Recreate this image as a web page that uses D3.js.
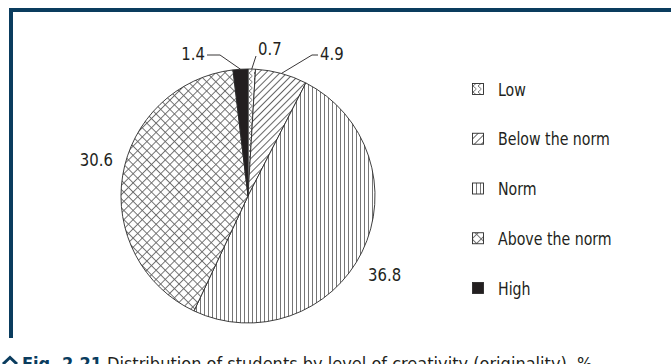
<!DOCTYPE html>
<html>
<head>
<meta charset="utf-8">
<script src="https://cdn.jsdelivr.net/npm/d3@7/dist/d3.min.js"></script>
<style>
  html, body { margin: 0; padding: 0; background: #fff; overflow: hidden; }
  svg { display: block; }
  .lbl { font-family: "DejaVu Sans Condensed", "DejaVu Sans", sans-serif; font-stretch: condensed; fill: #231f20; }
</style>
</head>
<body>
<svg id="chart" width="671" height="364"></svg>
<script>
// ---- data ----
const categories = ["Low", "Below the norm", "Norm", "Above the norm", "High"];
const values = [0.7, 4.9, 36.8, 30.6, 1.4];
const patternIds = ["pat-low", "pat-below", "pat-norm", "pat-above", "pat-high"];
const captionFig = "Fig. 2.21";
const captionText = "Distribution of students by level of creativity (originality), %";

// ---- layout / style ----
const W = 671, H = 364;
const cx = 248, cy = 196, R = 127;
const navy = "#0a3c5e";
const ink = "#231f20";
const fontSize = 18;

const svg = d3.select("#chart");
const defs = svg.append("defs");

// patterns
const pLow = defs.append("pattern").attr("id", "pat-low").attr("patternUnits", "userSpaceOnUse")
  .attr("width", 5).attr("height", 6);
pLow.append("rect").attr("width", 5).attr("height", 6).attr("fill", "#fff");
pLow.append("path").attr("d", "M4.5,0 L1,3 L4.5,6").attr("fill", "none").attr("stroke", "#555").attr("stroke-width", 0.8);

const pBelow = defs.append("pattern").attr("id", "pat-below").attr("patternUnits", "userSpaceOnUse")
  .attr("width", 5).attr("height", 5).attr("patternTransform", "rotate(45)");
pBelow.append("rect").attr("width", 5).attr("height", 5).attr("fill", "#fff");
pBelow.append("line").attr("x1", 0.5).attr("y1", 0).attr("x2", 0.5).attr("y2", 5)
  .attr("stroke", "#555").attr("stroke-width", 0.9);

const pNorm = defs.append("pattern").attr("id", "pat-norm").attr("patternUnits", "userSpaceOnUse")
  .attr("width", 4).attr("height", 4);
pNorm.append("rect").attr("width", 4).attr("height", 4).attr("fill", "#fff");
pNorm.append("line").attr("x1", 0.5).attr("y1", 0).attr("x2", 0.5).attr("y2", 4)
  .attr("stroke", "#666").attr("stroke-width", 0.9);

const pAbove = defs.append("pattern").attr("id", "pat-above").attr("patternUnits", "userSpaceOnUse")
  .attr("width", 6.5).attr("height", 6.5).attr("patternTransform", "rotate(45)");
pAbove.append("rect").attr("width", 6.5).attr("height", 6.5).attr("fill", "#fff");
pAbove.append("line").attr("x1", 0.5).attr("y1", 0).attr("x2", 0.5).attr("y2", 6.5)
  .attr("stroke", "#666").attr("stroke-width", 0.9);
pAbove.append("line").attr("x1", 0).attr("y1", 0.5).attr("x2", 6.5).attr("y2", 0.5)
  .attr("stroke", "#666").attr("stroke-width", 0.9);

const pHigh = defs.append("pattern").attr("id", "pat-high").attr("patternUnits", "userSpaceOnUse")
  .attr("width", 4).attr("height", 4);
pHigh.append("rect").attr("width", 4).attr("height", 4).attr("fill", ink);

// frame
svg.append("rect").attr("x", 9).attr("y", 8).attr("width", W - 9).attr("height", 4).attr("fill", navy);
svg.append("rect").attr("x", 9).attr("y", 8).attr("width", 4).attr("height", 330).attr("fill", navy);

// pie
const pie = d3.pie().sort(null).value(d => d.v);
const data = categories.map((c, i) => ({ c, v: values[i], pat: patternIds[i] }));
const arcs = pie(data);
const arc = d3.arc().innerRadius(0).outerRadius(R);

const g = svg.append("g").attr("transform", `translate(${cx},${cy})`);
g.selectAll("path.slice").data(arcs).join("path")
  .attr("class", "slice")
  .attr("d", arc)
  .attr("fill", d => `url(#${d.data.pat})`)
  .attr("stroke", "#2a2a2a")
  .attr("stroke-width", 0.9);

// value labels (leader layout per category, relative to chart centre)
const fmt = d3.format(".1f");
const numScale = 0.92, legScale = 0.875;
const labelLayout = {
  "Low":            { tx: 10,  ty: -141, anchor: "start", leader: [[8, -140]] },
  "Below the norm": { tx: 72,  ty: -136, anchor: "start", leader: [[64, -141], [70, -141]] },
  "Norm":           { tx: 120, ty: 85,   anchor: "start", leader: null },
  "Above the norm": { tx: -135, ty: -30, anchor: "end",   leader: null },
  "High":           { tx: -43, ty: -136, anchor: "end",   leader: [[-28, -141], [-41, -141]] }
};
arcs.forEach(a => {
  const L = labelLayout[a.data.c];
  if (L.leader) {
    const mid = (a.startAngle + a.endAngle) / 2;
    const p0 = [R * Math.sin(mid), -R * Math.cos(mid)];
    g.append("path")
      .attr("d", d3.line()([p0, ...L.leader]))
      .attr("fill", "none").attr("stroke", ink).attr("stroke-width", 0.9);
  }
  g.append("text").attr("class", "lbl")
    .attr("transform", `translate(${L.tx},${L.ty}) scale(${numScale},1)`)
    .attr("text-anchor", L.anchor)
    .attr("font-size", fontSize)
    .text(fmt(a.data.v));
});

// legend
const legend = svg.append("g").attr("transform", "translate(472,0)");
const rowY = d3.scalePoint().domain(categories).range([89, 288]);
const items = legend.selectAll("g.item").data(data).join("g")
  .attr("class", "item")
  .attr("transform", d => `translate(0,${rowY(d.c)})`);
items.append("rect")
  .attr("x", 0.5).attr("y", -5.5).attr("width", 11).attr("height", 11)
  .attr("fill", d => `url(#${d.pat})`)
  .attr("stroke", "#2a2a2a").attr("stroke-width", 0.9);
items.append("text").attr("class", "lbl")
  .attr("transform", `translate(26,6.5) scale(${legScale},1)`)
  .attr("font-size", fontSize)
  .text(d => d.c);

// caption (partially cut off at the bottom of the picture, as in the reference)
svg.append("path")
  .attr("d", "M3,364 L10,357.5 L17,364")
  .attr("fill", "none").attr("stroke", navy).attr("stroke-width", 3);
const cap = svg.append("text").attr("class", "lbl")
  .attr("x", 22).attr("y", 370).attr("font-size", fontSize);
cap.append("tspan").attr("font-weight", "bold").attr("fill", navy).text(captionFig);
cap.append("tspan").attr("dx", 5).text(captionText);
</script>
</body>
</html>
